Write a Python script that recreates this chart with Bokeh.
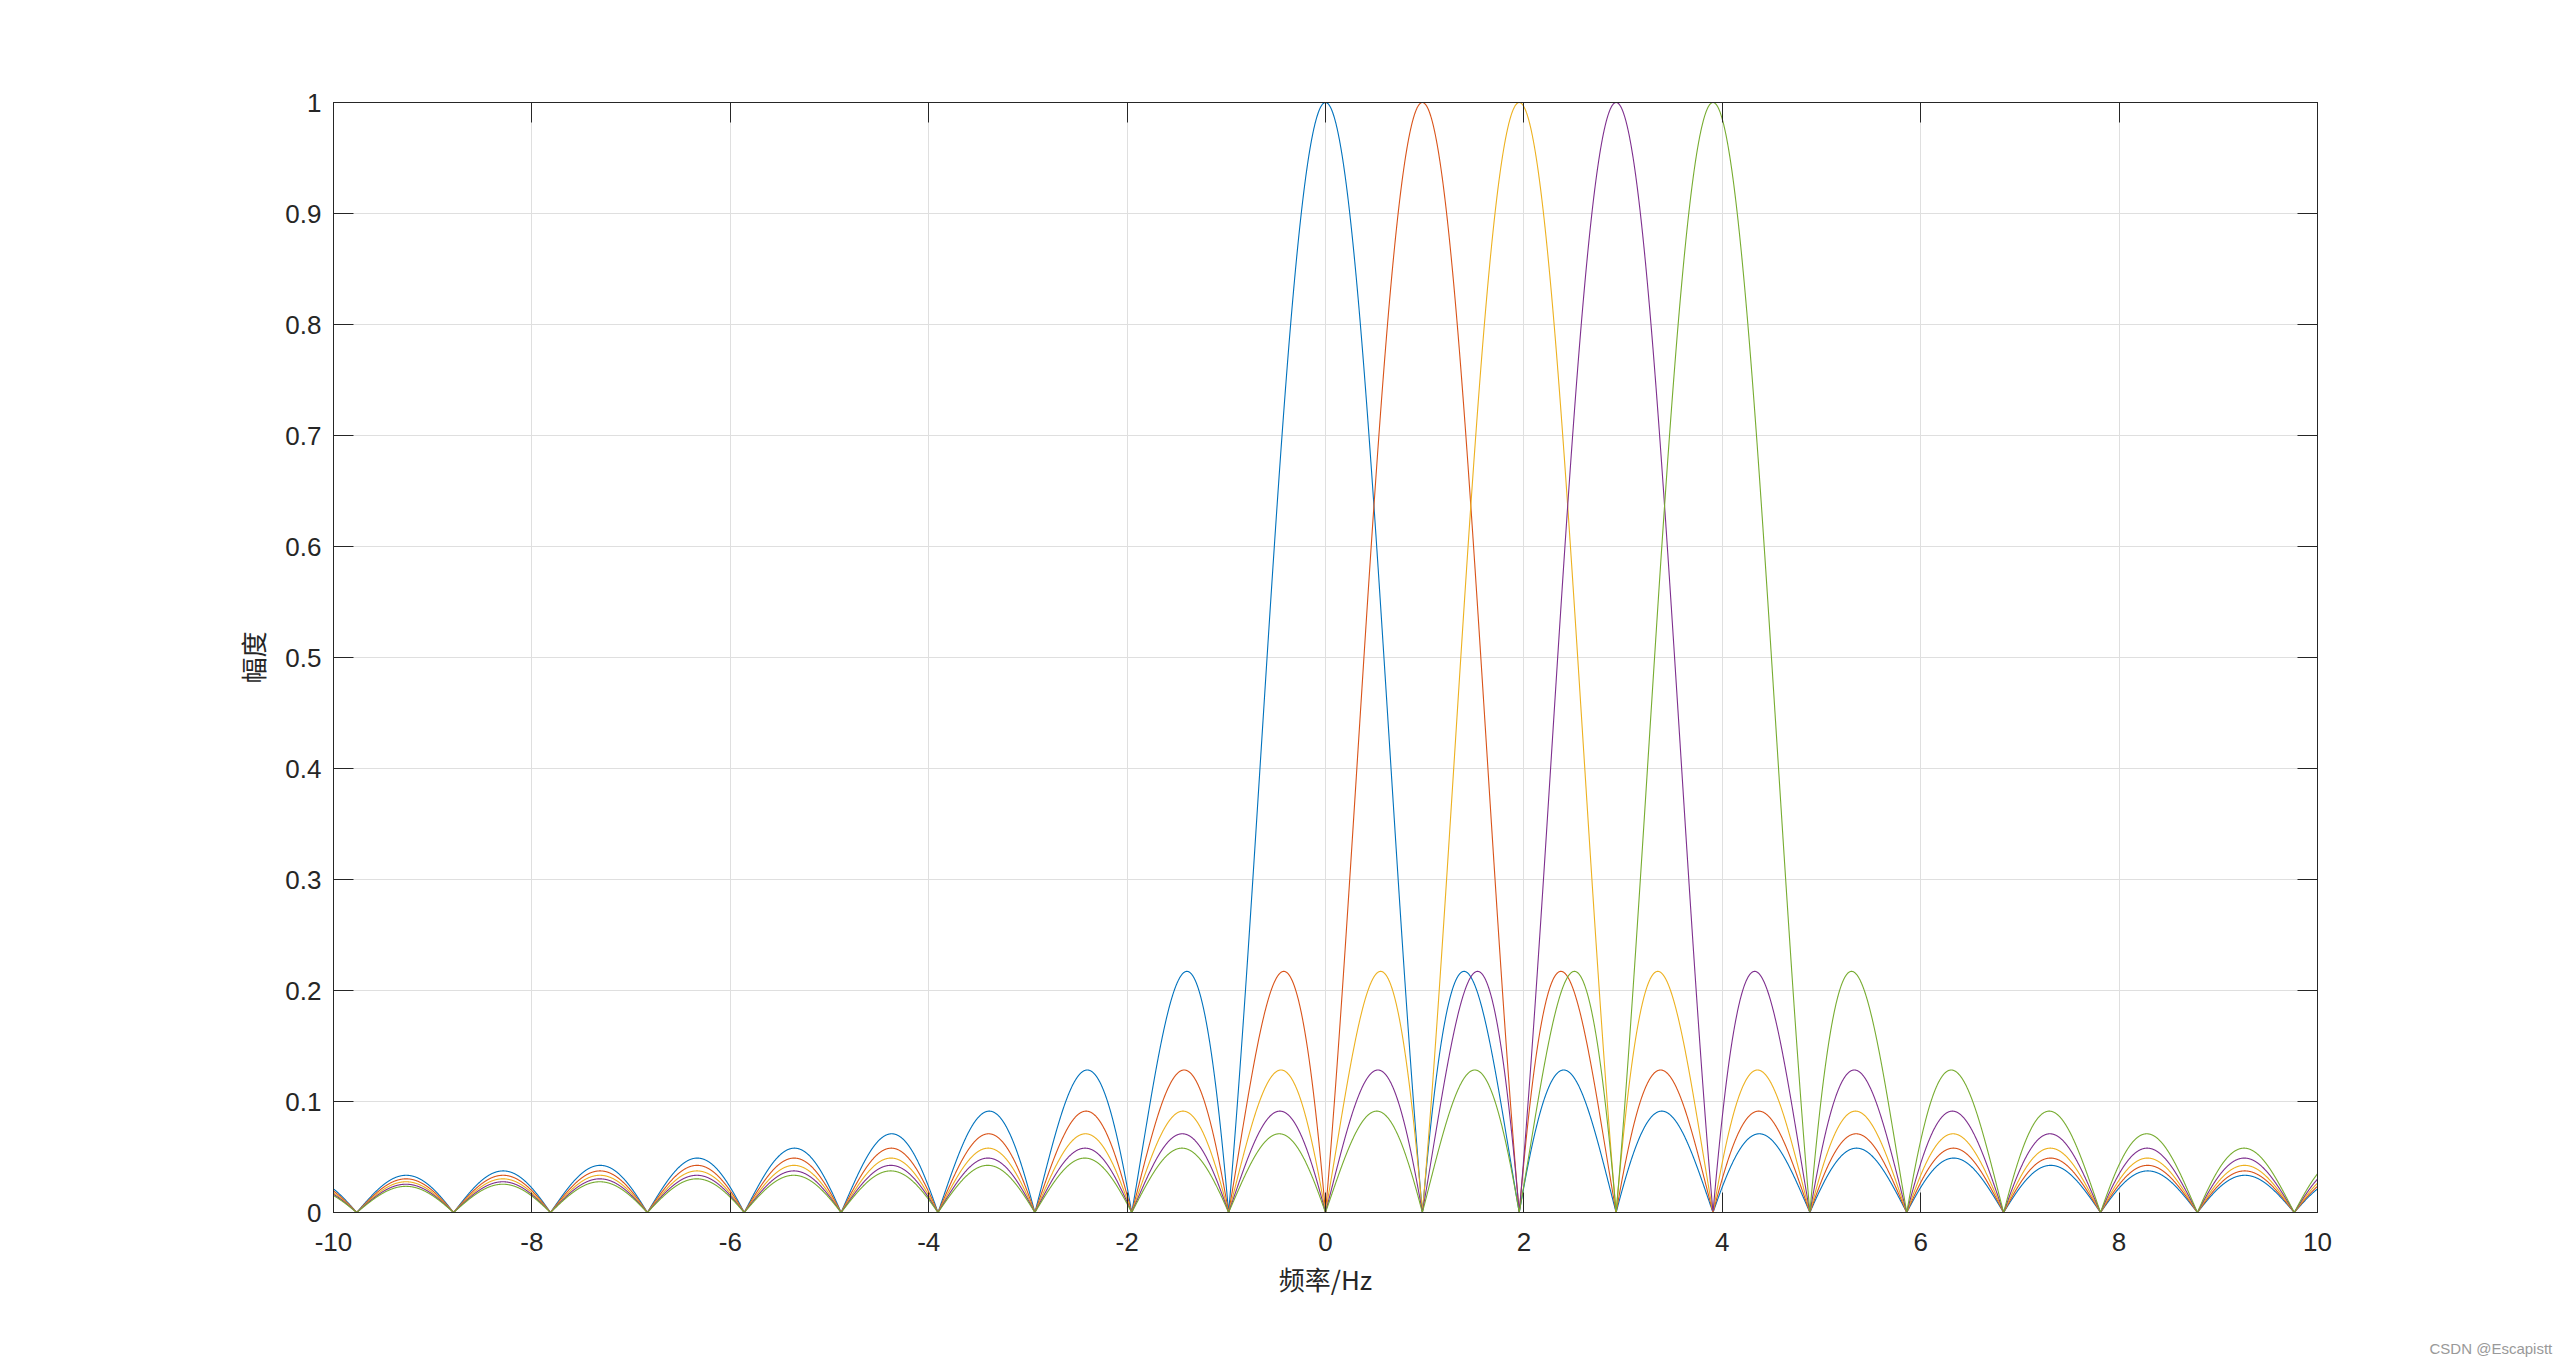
import numpy as np
from bokeh.plotting import figure
from bokeh.models import (LinearAxis, FixedTicker, NumeralTickFormatter, Title,
                          Range1d, ColumnDataSource)
from bokeh.embed import file_html
from bokeh.resources import INLINE

# ---- data ----
# five |sinc| spectra; peak centres and the common null spacing
bin_width_hz = 0.9766                       # spacing of nulls / peaks
peak_centres_hz = [0.0, 0.9766, 1.9531, 2.9297, 3.9063]
peak_heights = [1.0, 1.0, 1.0, 1.0, 1.0]
series_colors = ["#0072BD", "#D95319", "#EDB120", "#7E2F8E", "#77AC30"]
x_ticks = [-10, -8, -6, -4, -2, 0, 2, 4, 6, 8, 10]
x_tick_labels = ["-10", "-8", "-6", "-4", "-2", "0", "2", "4", "6", "8", "10"]
y_ticks = [0.0, 0.1, 0.2, 0.3, 0.4, 0.5, 0.6, 0.7, 0.8, 0.9, 1.0]
x_label = "频率/Hz"
y_label = "幅度"
watermark = "CSDN @Escapistt"

freq = np.linspace(-10, 10, 8001)

W, H = 2560, 1363
p = figure(width=W, height=H, output_backend="svg", toolbar_location=None,
           x_range=Range1d(-10, 10), y_range=Range1d(0, 1),
           min_border_left=333, min_border_right=243,
           min_border_top=102, min_border_bottom=151,
           x_axis_location=None, y_axis_location=None)
p.background_fill_color = "white"
p.border_fill_color = "white"
p.outline_line_color = "#262626"
p.outline_line_width = 1

axis_color = "#262626"
tick_font = "Liberation Sans"
cjk_font = "Noto Sans CJK SC"
fs = "26px"

xb = LinearAxis(ticker=FixedTicker(ticks=x_ticks))
xb.major_label_overrides = {t: s for t, s in zip(x_ticks, x_tick_labels)}
yl = LinearAxis(ticker=FixedTicker(ticks=y_ticks),
                formatter=NumeralTickFormatter(format="0.[0]"))
xt = LinearAxis(ticker=FixedTicker(ticks=x_ticks))
yr = LinearAxis(ticker=FixedTicker(ticks=y_ticks))

for ax in (xb, yl, xt, yr):
    ax.axis_line_color = axis_color
    ax.axis_line_width = 1
    ax.major_tick_line_color = axis_color
    ax.major_tick_line_width = 1
    ax.major_tick_in = 20
    ax.major_tick_out = 0
    ax.minor_tick_line_color = None
    ax.major_label_text_font = tick_font
    ax.major_label_text_font_size = fs
    ax.major_label_text_color = axis_color

for ax in (xt, yr):
    ax.major_label_text_font_size = "0px"
    ax.major_label_text_color = None

xb.major_label_standoff = 20
xb.axis_label = x_label
xb.axis_label_text_font = cjk_font
xb.axis_label_text_font_size = fs
xb.axis_label_text_font_style = "normal"
xb.axis_label_text_color = axis_color
xb.axis_label_standoff = 6

yl.major_label_standoff = 12
yl.axis_label = y_label
yl.axis_label_text_font = cjk_font
yl.axis_label_text_font_size = fs
yl.axis_label_text_font_style = "normal"
yl.axis_label_text_color = axis_color
yl.axis_label_standoff = 11

p.add_layout(xb, "below")
p.add_layout(yl, "left")
p.add_layout(xt, "above")
p.add_layout(yr, "right")

p.xgrid.ticker = FixedTicker(ticks=x_ticks)
p.ygrid.ticker = FixedTicker(ticks=y_ticks)
for g in (p.xgrid, p.ygrid):
    g.grid_line_color = "#dfdfdf"
    g.grid_line_width = 1

for c, h, col in zip(peak_centres_hz, peak_heights, series_colors):
    amp = h * np.abs(np.sinc((freq - c) / bin_width_hz))
    src = ColumnDataSource(dict(x=freq, y=amp))
    p.line("x", "y", source=src, line_color=col, line_width=1.1)

# watermark in the bottom-right corner, as a title below the x axis
# (two empty leading lines push it down towards the page's bottom edge)
wm = Title(text="\n\n" + watermark, align="left", offset=2096, standoff=8,
           text_font=tick_font, text_font_size="15px",
           text_font_style="normal", text_color="#999999")
p.add_layout(wm, "below")

open("out.html", "w").write(file_html(p, INLINE))
